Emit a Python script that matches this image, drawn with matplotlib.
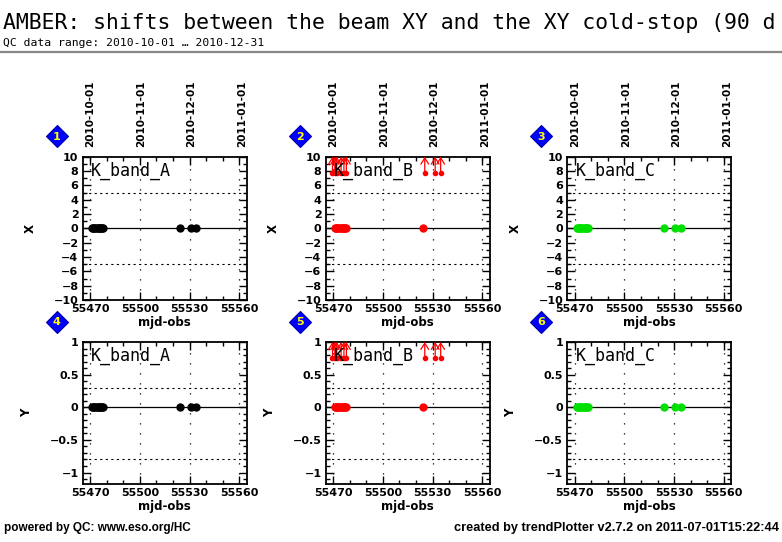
import matplotlib
matplotlib.use("Agg")
import matplotlib.pyplot as plt
from matplotlib.lines import Line2D
import numpy as np

# ---------------- data ----------------
title = "AMBER: shifts between the beam XY and the XY cold-stop (90 d"
subtitle = "QC data range: 2010-10-01 \u2026 2010-12-31"
footer_left = "powered by QC: www.eso.org/HC"
footer_right = "created by trendPlotter v2.7.2 on 2011-07-01T15:22:44"

date_ticks_mjd = [55470, 55501, 55531, 55562]
date_ticks_lbl = ["2010-10-01", "2010-11-01", "2010-12-01", "2011-01-01"]
mjd_ticks = [55470, 55500, 55530, 55560]

mjd_A = [55471.3, 55471.9, 55472.5, 55473.2, 55473.9, 55474.6, 55475.3,
         55476.0, 55476.6, 55477.2, 55477.8, 55524.1, 55530.8, 55534.1]
x_A = [0.0] * len(mjd_A)
y_A = [0.0] * len(mjd_A)

mjd_B = [55471.3, 55471.9, 55472.5, 55473.2, 55473.9, 55474.6, 55475.3,
         55476.0, 55476.6, 55477.2, 55477.8, 55524.2]
x_B = [0.0] * len(mjd_B)
y_B = [0.0] * len(mjd_B)
mjd_B_out = [55469.6, 55471.0, 55472.2, 55474.8, 55476.5, 55478.0,
             55525.3, 55531.6, 55534.9]

mjd_C = list(mjd_A)
x_C = [0.0] * len(mjd_C)
y_C = [0.0] * len(mjd_C)

x_thresholds = [5, -5]
y_thresholds = [0.3, -0.8]
x_range = (-10, 10)
y_range = (-1.18, 1.0)
mjd_range = (55465.5, 55564.5)

panel_names = ["K_band_A", "K_band_B", "K_band_C"]
colors = ["black", "#ff0000", "#00e000"]

# ---------------- figure ----------------
W, H = 782, 542
fig = plt.figure(figsize=(W / 100, H / 100), dpi=100)

def px_axes(left, top, width, height):
    return fig.add_axes([left / W, 1 - (top + height) / H, width / W, height / H])

lefts = [82.7, 325.7, 567.3]
pw = 164
rows = [(156.7, 143.3), (342.0, 142.3)]

bold = dict(fontweight="bold", family="DejaVu Sans")
mono = "DejaVu Sans Mono"

series = [
    (mjd_A, x_A, y_A, None),
    (mjd_B, x_B, y_B, mjd_B_out),
    (mjd_C, x_C, y_C, None),
]

for r, (top, ph) in enumerate(rows):
    for c in range(3):
        ax = px_axes(lefts[c], top, pw, ph)
        mjd, xv, yv, outl = series[c]
        vals = xv if r == 0 else yv
        ylim = x_range if r == 0 else y_range
        thr = x_thresholds if r == 0 else y_thresholds
        ax.set_xlim(*mjd_range)
        ax.set_ylim(*ylim)
        # grid / reference lines
        for m in mjd_ticks:
            ax.axvline(m, color="black", lw=0.9, ls=(0, (1, 7)), zorder=1)
        for t in thr:
            ax.axhline(t, color="black", lw=0.8, ls=(0, (2, 3)), zorder=1)
        ax.axhline(0, color="black", lw=0.9, zorder=2)
        ax.plot(mjd, vals, "o", color=colors[c], ms=5, mec=colors[c], zorder=3)
        if outl is not None:
            ytop = ylim[1]
            ybase = ytop - (2.3 if r == 0 else 0.25)
            for m in outl:
                ax.annotate("", xy=(m, ytop), xytext=(m, ybase),
                            arrowprops=dict(arrowstyle="->,head_length=0.45,head_width=0.28",
                                            color=colors[c], lw=0.9, shrinkA=0, shrinkB=0),
                            zorder=4, annotation_clip=False)
                ax.plot([m], [ybase], "o", color=colors[c], ms=3, zorder=4)
        # ticks
        ax.set_xticks(mjd_ticks)
        ax.set_xticks(np.arange(55470, 55565, 10), minor=True)
        if r == 0:
            ax.set_yticks(np.arange(-10, 11, 2))
            ax.set_yticks(np.arange(-10, 11, 1), minor=True)
            ax.set_yticklabels([str(v).replace("-", "\u2212") for v in range(-10, 11, 2)])
        else:
            ax.set_yticks([-1, -0.5, 0, 0.5, 1])
            ax.set_yticklabels(["\u22121", "\u22120.5", "0", "0.5", "1"])
            ax.set_yticks(np.arange(-1.1, 1.01, 0.1), minor=True)
        ax.tick_params(which="both", direction="in", top=True, right=True, width=1.0)
        ax.tick_params(which="major", length=6, labelsize=8, pad=3)
        ax.tick_params(which="minor", length=3)
        for lab in ax.get_xticklabels() + ax.get_yticklabels():
            lab.set_fontweight("bold")
        for s in ax.spines.values():
            s.set_linewidth(1.3)
        ax.set_xlabel("mjd-obs", fontsize=8.5, labelpad=1, **bold)
        ax.set_ylabel("X" if r == 0 else "Y", fontsize=8.5, labelpad=12, **bold)
        # secondary date axis
        sec = ax.secondary_xaxis("top")
        sec.set_xticks(date_ticks_mjd)
        sec.set_xticklabels(date_ticks_lbl, rotation=90, fontsize=7.5, fontweight="bold")
        sec.tick_params(length=0, pad=7)
        sec.spines["top"].set_visible(False)
        if r == 1:
            for lab in sec.get_xticklabels():
                lab.set_visible(False)
        # panel label
        ax.text(0.05, 0.965, panel_names[c], transform=ax.transAxes, ha="left", va="top",
                fontsize=12, family=mono, zorder=5)
        # diamond number
        n = r * 3 + c + 1
        dx = (lefts[c] - 26) / W
        dy = 1 - (top - 20.5) / H
        fig.add_artist(Line2D([dx], [dy], marker="D", ms=11, color="#0000ff",
                              mec="#0000aa", mew=0.8, transform=fig.transFigure))
        fig.text(dx, dy - 0.5 / H, str(n), ha="center", va="center", color="#ffff00",
                 fontsize=8, fontweight="bold", family="DejaVu Sans")

# header
fig.text(3 / W, 1 - 29 / H, title, fontsize=15.4, family=mono, ha="left", va="baseline")
fig.text(3 / W, 1 - 46 / H, subtitle, fontsize=8.2, family=mono, ha="left", va="baseline")
fig.add_artist(Line2D([0, 1], [1 - 52 / H, 1 - 52 / H], color="#888888", lw=1.6,
                      transform=fig.transFigure))
# footer
fig.text(4 / W, 1 - 531 / H, footer_left, fontsize=8.5, fontweight="bold",
         family="Liberation Sans", ha="left", va="baseline")
fig.text(779 / W, 1 - 531 / H, footer_right, fontsize=9.2, fontweight="bold",
         family="Liberation Sans", ha="right", va="baseline")

fig.savefig("out.png", dpi=100)
